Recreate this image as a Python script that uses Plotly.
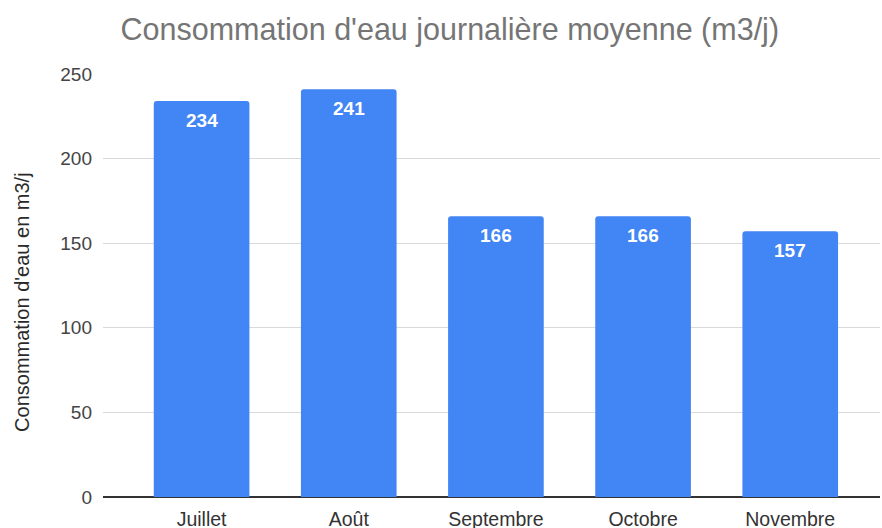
import plotly.graph_objects as go

months = ["Juillet", "Août", "Septembre", "Octobre", "Novembre"]
values = [234, 241, 166, 166, 157]
y_ticks = [0, 50, 100, 150, 200, 250]

FONT = "Arial, 'Liberation Sans', sans-serif"

fig = go.Figure()
fig.add_trace(go.Bar(
    x=months, y=values,
    marker=dict(color="#4285F4", line=dict(width=0), cornerradius=3),
    hoverinfo="skip",
))

for m, v in zip(months, values):
    fig.add_annotation(
        x=m, y=v, text=f"<b>{v}</b>", showarrow=False,
        yanchor="middle", yshift=-19,
        font=dict(family=FONT, size=19, color="white"),
    )

# y-axis title as a rotated annotation (sits slightly below the plot centre)
fig.add_annotation(
    xref="paper", yref="paper", x=-0.105, y=0.5, yshift=-16,
    xanchor="center", yanchor="middle", textangle=-90, showarrow=False,
    text="Consommation d'eau en m3/j",
    font=dict(family=FONT, size=20, color="#2a2a2a"),
)

fig.update_layout(
    width=882, height=528,
    margin=dict(l=103, r=2, t=74, b=31, autoexpand=False),
    paper_bgcolor="white", plot_bgcolor="white",
    bargap=0.35,
    showlegend=False,
    title=dict(
        text="Consommation d'eau journalière moyenne (m3/j)",
        x=0.51, xanchor="center", y=0.945, yanchor="middle",
        font=dict(family=FONT, size=30.5, color="#757575"),
    ),
    xaxis=dict(
        type="category", range=[-0.67, 4.61], automargin=False,
        showgrid=False, showline=False, ticks="",
        tickfont=dict(family=FONT, size=19.5, color="#333333"),
        ticklabelstandoff=8,
    ),
    yaxis=dict(
        range=[0, 250], tickvals=y_ticks, automargin=False,
        showgrid=True, gridcolor="#d9d9d9", gridwidth=1,
        zeroline=True, zerolinecolor="#333333", zerolinewidth=1.5,
        showline=False, ticks="",
        tickfont=dict(family=FONT, size=19, color="#444444"),
        ticklabelstandoff=10,
    ),
)

fig.write_html(
    "out.html",
    config={"displayModeBar": False},
    post_script="document.body.style.margin='0';document.body.style.padding='0';",
)
